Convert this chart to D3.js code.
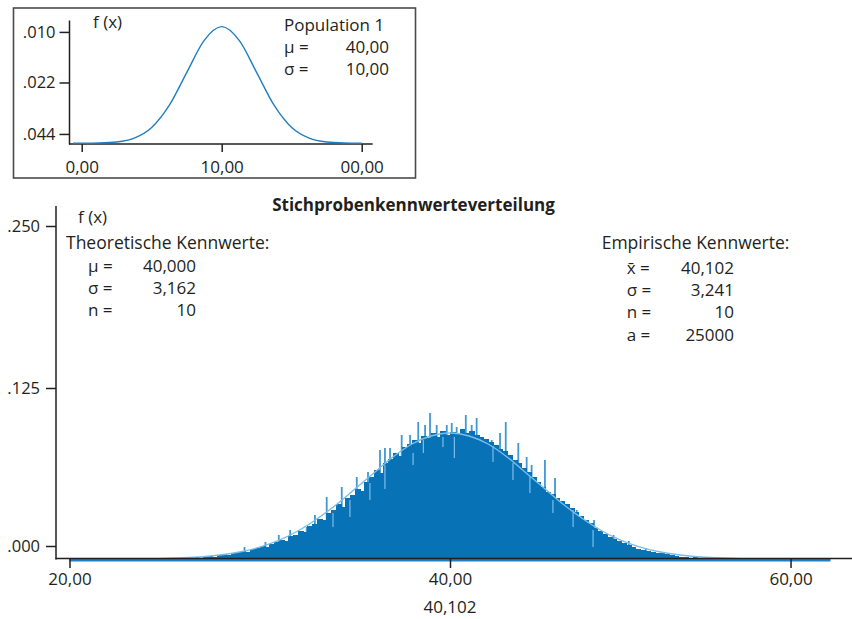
<!DOCTYPE html>
<html><head><meta charset="utf-8">
<script src="https://cdn.jsdelivr.net/npm/d3@7"></script>
<style>
body{margin:0;background:#fff;}
svg text{font-family:"Open Sans",sans-serif;fill:#231f20;}
</style></head><body>
<svg id="c" width="852" height="619"></svg>
<script>
// ---------------- data: population panel ----------------
const popX       = [-2.5, 0, 5, 10, 15, 20, 25, 30, 35, 40, 45, 50, 55, 60, 65, 70, 75, 80];
const popDensity = [0, 0.00001, 0.00009, 0.00044, 0.00175, 0.0054, 0.01295, 0.0242, 0.0352, 0.0399,
                    0.0352, 0.0242, 0.01295, 0.0054, 0.00175, 0.00044, 0.00009, 0.00001];
const popXTickValues = [0, 40, 80];
const popXTickLabels = ["0,00", "10,00", "00,00"];
const popYTickValues = [0.0381, 0.0208, 0.0032];
const popYTickLabels = [".010", ".022", ".044"];
const popTitle = "Population 1";
const popInfoLabels = ["μ =", "σ ="];
const popInfoValues = ["40,00", "10,00"];

// ---------------- data: sampling distribution ----------------
const binStart = 24, binWidth = 0.25;
const binDensity = [
  0.000,0.000,0.001,0.000, 0.000,0.001,0.000,0.001,
  0.001,0.001,0.002,0.001, 0.002,0.003,0.002,0.004,
  0.005,0.004,0.006,0.007, 0.008,0.007,0.010,0.011,
  0.013,0.012,0.015,0.017, 0.019,0.018,0.023,0.024,
  0.028,0.027,0.033,0.035, 0.040,0.039,0.046,0.049,
  0.055,0.052,0.061,0.064, 0.070,0.068,0.077,0.082,
  0.089,0.086,0.096,0.100, 0.106,0.103,0.112,0.115,
  0.119,0.116,0.123,0.121, 0.126,0.122,0.128,0.124,
  0.127,0.125,0.130,0.126, 0.128,0.124,0.122,0.120,
  0.117,0.114,0.110,0.108, 0.104,0.099,0.096,0.091,
  0.087,0.082,0.077,0.072, 0.067,0.065,0.061,0.058,
  0.055,0.051,0.047,0.043, 0.039,0.036,0.031,0.028,
  0.025,0.022,0.020,0.018, 0.016,0.014,0.012,0.010,
  0.009,0.008,0.007,0.006, 0.006,0.005,0.004,0.003,
  0.002,0.002,0.001,0.002, 0.001,0.001,0.000,0.001,
  0.001,0.000,0.000,0.001, 0.000,0.000,0.001,0.000
];
const spikeX = [29.2, 30.3, 31.0, 31.6, 32.47, 32.90, 33.52, 34.31, 35.10, 35.69, 36.32, 36.58, 36.85,
                37.46, 37.90, 38.33, 38.69, 38.95, 39.30, 39.83, 40.09, 40.35, 40.83, 41.14, 41.40,
                42.19, 42.63, 42.93, 43.59, 44.03, 44.29, 44.99, 45.52, 46.13, 46.66, 47.57, 48.6, 49.4, 50.3];
const spikeDensity = [0.012, 0.017, 0.024, 0.029, 0.032, 0.044, 0.062, 0.072, 0.082, 0.087, 0.109, 0.111, 0.111,
                0.124, 0.124, 0.137, 0.134, 0.146, 0.134, 0.134, 0.136, 0.132, 0.144, 0.134, 0.141,
                0.119, 0.126, 0.137, 0.116, 0.102, 0.094, 0.099, 0.081, 0.052, 0.049, 0.039, 0.024, 0.018, 0.011];
const dipX      = [40.23, 38.60, 39.63, 42.26, 38.06, 36.58, 43.31, 44.20, 35.79, 34.74, 33.85, 45.41, 46.47, 47.52];
const dipTop    = [0.122, 0.119, 0.122, 0.113, 0.106, 0.094, 0.096, 0.083, 0.076, 0.059, 0.046, 0.059, 0.049, 0.029];
const dipBottom = [0.101, 0.106, 0.112, 0.097, 0.094, 0.070, 0.079, 0.066, 0.059, 0.042, 0.032, 0.046, 0.032, 0.012];
const curveX = [20,21,22,23,24,25,26,27,28,29,30,31,32,33,34,35,36,37,38,39,40,
                41,42,43,44,45,46,47,48,49,50,51,52,53,54,55,56,57,58,59,60];
const curveDensity = [0,0,0,0,0,0.0006,0.0012,0.0023,0.0042,0.0072,0.0119,0.0186,0.028,0.040,0.054,0.070,0.086,0.102,0.115,0.123,0.126,
                0.123,0.115,0.102,0.086,0.070,0.054,0.040,0.028,0.0186,0.0119,0.0072,0.0042,0.0023,0.0012,0.0006,0,0,0,0,0];
const xTickValues = [20, 40, 57.9];
const xTickLabels = ["20,00", "40,00", "60,00"];
const yTickValues = [0.013, 0.171, 0.333];
const yTickLabels = [".000", ".125", ".250"];
const chartTitle = "Stichprobenkennwerteverteilung";
const theoTitle = "Theoretische Kennwerte:";
const theoLabels = ["μ =", "σ =", "n ="];
const theoValues = ["40,000", "3,162", "10"];
const empTitle = "Empirische Kennwerte:";
const empLabels = ["x\u0304 =", "σ =", "n =", "a ="];
const empValues = ["40,102", "3,241", "10", "25000"];
const meanLabel = "40,102";

// ---------------- drawing ----------------
const svg = d3.select("#c");
const ink = "#231f20";
const blue = "#0872b6";
const FS = 17;

function styleAxis(g, fs) {
  g.select(".domain").remove();
  g.selectAll(".tick line").attr("stroke", ink).attr("stroke-width", 1.5);
  g.selectAll(".tick text").attr("fill", ink).style("font-size", fs + "px")
    .style("font-family", '"Open Sans",sans-serif');
}

// ===== Population panel =====
svg.append("rect").attr("x", 13.5).attr("y", 8).attr("width", 402).attr("height", 170)
  .attr("fill", "none").attr("stroke", "#4a4a4a").attr("stroke-width", 1.6);

const px = d3.scaleLinear().domain([0, 80]).range([81.7, 361.7]);
const py = d3.scaleLinear().domain([0, 0.0431]).range([143.3, 17.3]);

svg.append("line").attr("x1", 69.5).attr("x2", 69.5).attr("y1", 20.5).attr("y2", 144.5)
  .attr("stroke", ink).attr("stroke-width", 1.5);
svg.append("line").attr("x1", 69).attr("x2", 372.7).attr("y1", 144).attr("y2", 144)
  .attr("stroke", ink).attr("stroke-width", 1.5);

svg.append("g").attr("transform", "translate(69.5,0)")
  .call(d3.axisLeft(py).tickValues(popYTickValues).tickFormat((d, i) => popYTickLabels[i]).tickSize(10).tickPadding(4))
  .call(g => styleAxis(g, 16.5));
svg.append("g").attr("transform", "translate(0,144)")
  .call(d3.axisBottom(px).tickValues(popXTickValues).tickFormat((d, i) => popXTickLabels[i]).tickSize(8).tickPadding(9))
  .call(g => styleAxis(g, FS));

svg.append("path")
  .attr("d", d3.line().x((d, i) => px(popX[i])).y(d => py(d)).curve(d3.curveMonotoneX)(popDensity))
  .attr("fill", "none").attr("stroke", "#1f7dc2").attr("stroke-width", 1.4);

svg.append("text").attr("x", 93).attr("y", 27.5).style("font-size", FS + "px").text("f (x)");
svg.append("text").attr("x", 284).attr("y", 31).style("font-size", FS + "px").text(popTitle);
popInfoLabels.forEach((l, i) => {
  svg.append("text").attr("x", 284).attr("y", 53 + i * 21.5).style("font-size", FS + "px").text(l);
  svg.append("text").attr("x", 389).attr("y", 53 + i * 21.5).attr("text-anchor", "end")
    .style("font-size", FS + "px").text(popInfoValues[i]);
});

// ===== Sampling distribution =====
const x = d3.scaleLinear().domain([20, 60]).range([69.5, 830.5]);
const y = d3.scaleLinear().domain([0, 0.333]).range([559, 226]);

svg.append("text").attr("x", 413.5).attr("y", 211).attr("text-anchor", "middle")
  .style("font-size", "17px").style("font-weight", "700").text(chartTitle);

// spikes (under bars)
svg.append("g").selectAll("line").data(spikeDensity).join("line")
  .attr("x1", (d, i) => x(spikeX[i])).attr("x2", (d, i) => x(spikeX[i]))
  .attr("y1", y(0)).attr("y2", d => y(d))
  .attr("stroke", "#3f98d5").attr("stroke-width", 1.8);

// bars
const bw = x(binStart + binWidth) - x(binStart);
svg.append("g").attr("shape-rendering", "crispEdges")
  .selectAll("rect").data(binDensity).join("rect")
  .attr("x", (d, i) => x(binStart + i * binWidth))
  .attr("width", bw + 1)
  .attr("y", d => y(d))
  .attr("height", d => y(0) - y(d))
  .attr("fill", blue);

// light gaps inside the fill
svg.append("g").selectAll("line").data(dipTop).join("line")
  .attr("x1", (d, i) => x(dipX[i])).attr("x2", (d, i) => x(dipX[i]))
  .attr("y1", d => y(d)).attr("y2", (d, i) => y(dipBottom[i]))
  .attr("stroke", "#78b8e4").attr("stroke-width", 1.3);

// fitted curve
svg.append("path")
  .attr("d", d3.line().x((d, i) => x(curveX[i])).y(d => y(d)).curve(d3.curveMonotoneX)(curveDensity))
  .attr("fill", "none").attr("stroke", "#7cbde8").attr("stroke-width", 1.4);

// baseline strip
svg.append("rect").attr("x", x(20)).attr("width", x(60) - x(20)).attr("y", 558.5).attr("height", 3)
  .attr("fill", "#1f80c4");

// axes
svg.append("line").attr("x1", 56).attr("x2", 56).attr("y1", 206).attr("y2", 559.5)
  .attr("stroke", ink).attr("stroke-width", 1.5);
svg.append("line").attr("x1", 55.5).attr("x2", 852).attr("y1", 558.5).attr("y2", 558.5)
  .attr("stroke", ink).attr("stroke-width", 1.5);

svg.append("g").attr("transform", "translate(56,0)")
  .call(d3.axisLeft(y).tickValues(yTickValues).tickFormat((d, i) => yTickLabels[i]).tickSize(10).tickPadding(6))
  .call(g => styleAxis(g, 16.5));
svg.append("g").attr("transform", "translate(0,559)")
  .call(d3.axisBottom(x).tickValues(xTickValues).tickFormat((d, i) => xTickLabels[i]).tickSize(9).tickPadding(5))
  .call(g => styleAxis(g, FS));

svg.append("text").attr("x", x(40)).attr("y", 613).attr("text-anchor", "middle")
  .style("font-size", FS + "px").text(meanLabel);

// annotations
const AFS = "17px";
svg.append("text").attr("x", 78).attr("y", 223).style("font-size", FS + "px").text("f (x)");
svg.append("text").attr("x", 66).attr("y", 249).style("font-size", "17.5px").text(theoTitle);
theoLabels.forEach((l, i) => {
  const yy = 271.5 + i * 22.2;
  svg.append("text").attr("x", 88).attr("y", yy).style("font-size", AFS).text(l);
  svg.append("text").attr("x", 196).attr("y", yy).attr("text-anchor", "end").style("font-size", AFS).text(theoValues[i]);
});
svg.append("text").attr("x", 601.7).attr("y", 249).style("font-size", "17.5px").text(empTitle);
empLabels.forEach((l, i) => {
  const yy = 274 + i * 22.2;
  svg.append("text").attr("x", 626.7).attr("y", yy).style("font-size", AFS).text(l);
  svg.append("text").attr("x", 734).attr("y", yy).attr("text-anchor", "end").style("font-size", AFS).text(empValues[i]);
});
</script>
</body></html>
